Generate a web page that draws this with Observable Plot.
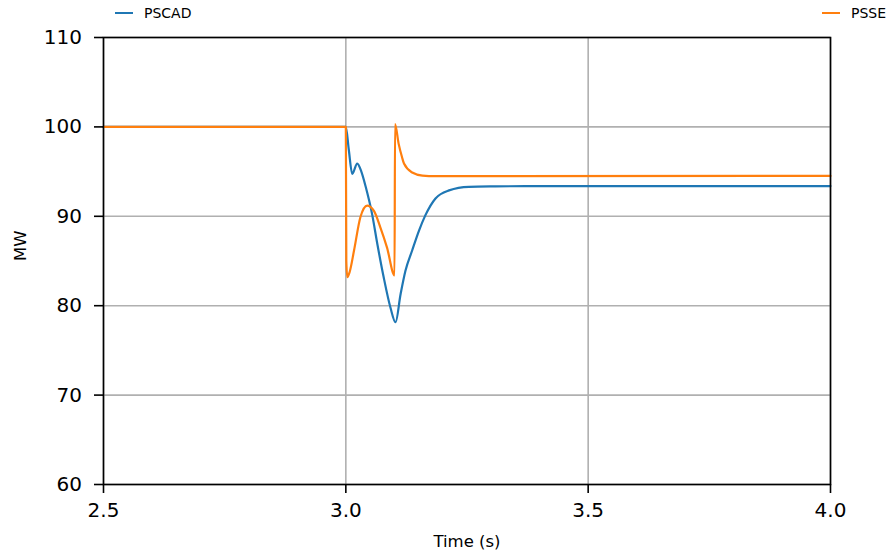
<!DOCTYPE html>
<html>
<head>
<meta charset="utf-8">
<script src="https://cdn.jsdelivr.net/npm/d3@7"></script>
<script src="https://cdn.jsdelivr.net/npm/@observablehq/plot@0.6"></script>
<style>
  html, body { margin: 0; padding: 0; background: #fff; }
  #wrap { position: relative; width: 890px; height: 557px; font-family: "DejaVu Sans", sans-serif; }
  .leg { position: absolute; top: 5px; font-size: 14px; color: #000; display: flex; align-items: center; }
  .sw { display: inline-block; width: 18px; height: 2.5px; margin-right: 11px; }
  svg text { font-family: "DejaVu Sans", sans-serif; }
  g[aria-label="x-axis tick label"] text, g[aria-label="y-axis tick label"] text { font-size: 20px; }
</style>
</head>
<body>
<div id="wrap">
  <div class="leg" id="leg1" style="left:115px"></div>
  <div class="leg" id="leg2" style="left:822px"></div>
</div>
<script>
const seriesNames = ["PSCAD", "PSSE"];
const colors = ["#1f77b4", "#ff7f0e"];

const pscadT = [2.5, 3.0, 3.006, 3.0132, 3.0235, 3.032, 3.041, 3.054, 3.065, 3.078, 3.092, 3.1025, 3.113, 3.123, 3.137, 3.151, 3.164, 3.185, 3.213, 3.254, 3.309, 3.4, 4.0];
const pscadV = [100, 100, 97.5, 94.75, 95.9, 95.0, 93.3, 90.3, 86.9, 83.2, 79.8, 78.15, 81.3, 83.9, 86.2, 88.4, 90.1, 92.0, 92.9, 93.3, 93.35, 93.38, 93.38];

const psseT = [2.5, 3.0, 3.001, 3.003, 3.008, 3.017, 3.030, 3.044, 3.058, 3.071, 3.085, 3.1005, 3.1015, 3.109, 3.116, 3.120, 3.137, 3.158, 3.185, 4.0];
const psseV = [100, 100, 85, 83.2, 83.8, 86.2, 89.9, 91.2, 90.6, 88.8, 86.5, 83.4, 100.3, 98.1, 96.6, 95.9, 94.9, 94.56, 94.5, 94.52];

const xTicks = [2.5, 3.0, 3.5, 4.0];
const yTicks = [60, 70, 80, 90, 100, 110];

const pscad = pscadT.map((t, i) => ({t, v: pscadV[i]}));
const psse = psseT.map((t, i) => ({t, v: psseV[i]}));

const chart = Plot.plot({
  width: 890,
  height: 557,
  marginLeft: 103,
  marginRight: 60,
  marginTop: 37,
  marginBottom: 73,
  x: {domain: [2.5, 4.0]},
  y: {domain: [60, 110]},
  marks: [
    Plot.gridX(xTicks, {stroke: "#b0b0b0", strokeOpacity: 1, strokeWidth: 1.6}),
    Plot.gridY(yTicks, {stroke: "#b0b0b0", strokeOpacity: 1, strokeWidth: 1.6}),
    Plot.line(pscad, {x: "t", y: "v", stroke: colors[0], strokeWidth: 2.2, curve: "monotone-x"}),
    Plot.line(psse, {x: "t", y: "v", stroke: colors[1], strokeWidth: 2.2, curve: "monotone-x"}),
    Plot.frame({stroke: "#000", strokeWidth: 1.6}),
    Plot.axisX(xTicks, {tickSize: 9, tickPadding: 9, tickFormat: d3.format(".1f"), label: null, strokeWidth: 1.6, color: "#000"}),
    Plot.axisY(yTicks, {tickSize: 9, tickPadding: 12.5, label: null, strokeWidth: 1.6, color: "#000"}),
    Plot.text(["Time (s)"], {frameAnchor: "bottom", dy: 62, fontSize: 16.5, fill: "#000"}),
    Plot.text(["MW"], {frameAnchor: "left", dx: -83, rotate: -90, fontSize: 16.5, fill: "#000"})
  ]
});
document.getElementById("wrap").appendChild(chart);
chart.style.position = "absolute";
chart.style.left = "0";
chart.style.top = "0";

[["leg1", 0], ["leg2", 1]].forEach(([id, i]) => {
  const el = document.getElementById(id);
  const sw = document.createElement("span");
  sw.className = "sw";
  sw.style.background = colors[i];
  el.appendChild(sw);
  el.appendChild(document.createTextNode(seriesNames[i]));
});
document.getElementById("wrap").appendChild(document.getElementById("leg1"));
document.getElementById("wrap").appendChild(document.getElementById("leg2"));
</script>
</body>
</html>
